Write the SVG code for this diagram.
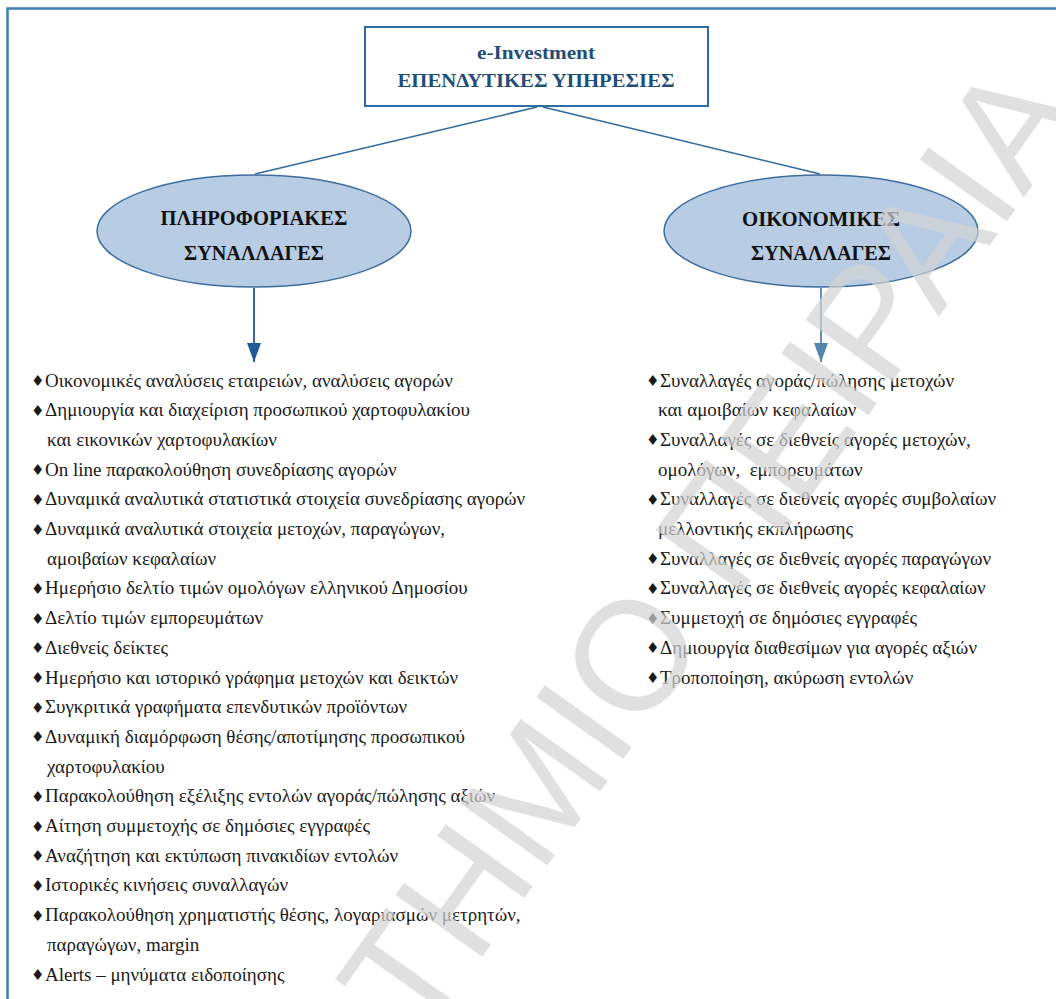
<svg xmlns="http://www.w3.org/2000/svg" width="1056" height="999" viewBox="0 0 1056 999">
<defs>
<style>
.item{font-family:"Liberation Serif","Times New Roman",serif;font-size:19px;fill:#1a1a1a}
.bul{font-family:"DejaVu Sans",sans-serif;font-size:15px;fill:#1a1a1a}
.ell{fill:#b8cce4;stroke:#3d6d9e;stroke-width:1.5}
.elltxt{font-family:"Liberation Serif","Times New Roman",serif;font-size:20px;font-weight:bold;fill:#111;text-anchor:middle}
.toptxt{font-family:"Liberation Serif","Times New Roman",serif;font-weight:bold;fill:#1f4e79;text-anchor:middle}
.conn{stroke:#2e6aa0;stroke-width:1.5;fill:none}
.wm{font-family:"Liberation Sans",Arial,sans-serif;font-size:155px;fill:#d4d4d4;opacity:0.7}
</style>
<marker id="ahL" markerWidth="20" markerHeight="14" refX="19" refY="7" orient="auto" markerUnits="userSpaceOnUse" viewBox="0 0 20 14">
<path d="M0,0 L19,7 L0,14 Z" fill="#1f5a96"/>
</marker>
<marker id="ahR" markerWidth="20" markerHeight="14" refX="19" refY="7" orient="auto" markerUnits="userSpaceOnUse" viewBox="0 0 20 14">
<path d="M0,0 L19,7 L0,14 Z" fill="#5585ad"/>
</marker>
</defs>
<rect x="0" y="0" width="1056" height="999" fill="#ffffff"/>
<path d="M7.5,1000 V8.5 H1060" fill="none" stroke="#3f7fb3" stroke-width="2.5"/>

<g id="connectors">
<line class="conn" x1="537" y1="107" x2="255" y2="174"/>
<line class="conn" x1="543" y1="107" x2="820" y2="174"/>
<line x1="254" y1="288" x2="254" y2="362" stroke="#1f5a96" stroke-width="1.8" marker-end="url(#ahL)"/>
<line x1="821" y1="288" x2="821" y2="362" stroke="#5585ad" stroke-width="1.8" marker-end="url(#ahR)"/>
</g>

<g id="node-top">
<rect x="365" y="27" width="343" height="79" fill="#ffffff" stroke="#2e6da4" stroke-width="2"/>
<text class="toptxt" x="536" y="59" font-size="19" textLength="118" lengthAdjust="spacingAndGlyphs">e-Investment</text>
<text class="toptxt" x="536" y="87" font-size="19" textLength="277" lengthAdjust="spacingAndGlyphs">ΕΠΕΝΔΥΤΙΚΕΣ ΥΠΗΡΕΣΙΕΣ</text>
</g>

<g id="node-info">
<ellipse class="ell" cx="254" cy="231" rx="157" ry="56"/>
<text class="elltxt" x="254" y="225" textLength="187" lengthAdjust="spacingAndGlyphs">ΠΛΗΡΟΦΟΡΙΑΚΕΣ</text>
<text class="elltxt" x="254" y="260" textLength="140" lengthAdjust="spacingAndGlyphs">ΣΥΝΑΛΛΑΓΕΣ</text>
</g>

<g id="node-fin">
<ellipse class="ell" cx="821" cy="231" rx="157" ry="56"/>
<text class="elltxt" x="821" y="226" textLength="158" lengthAdjust="spacingAndGlyphs">ΟΙΚΟΝΟΜΙΚΕΣ</text>
<text class="elltxt" x="821" y="260" textLength="140" lengthAdjust="spacingAndGlyphs">ΣΥΝΑΛΛΑΓΕΣ</text>
</g>

<g id="list-info">
<text class="bul" x="31" y="386">♦</text><text class="item" x="45" y="386.5">Οικονομικές αναλύσεις εταιρειών, αναλύσεις αγορών</text>
<text class="bul" x="31" y="416">♦</text><text class="item" x="45" y="416.2">Δημιουργία και διαχείριση προσωπικού χαρτοφυλακίου</text>
<text class="item" x="47" y="445.9">και εικονικών χαρτοφυλακίων</text>
<text class="bul" x="31" y="475">♦</text><text class="item" x="45" y="475.6">On line παρακολούθηση συνεδρίασης αγορών</text>
<text class="bul" x="31" y="505">♦</text><text class="item" x="45" y="505.3">Δυναμικά αναλυτικά στατιστικά στοιχεία συνεδρίασης αγορών</text>
<text class="bul" x="31" y="535">♦</text><text class="item" x="45" y="535">Δυναμικά αναλυτικά στοιχεία μετοχών, παραγώγων,</text>
<text class="item" x="47" y="564.7">αμοιβαίων κεφαλαίων</text>
<text class="bul" x="31" y="594">♦</text><text class="item" x="45" y="594.4">Ημερήσιο δελτίο τιμών ομολόγων ελληνικού Δημοσίου</text>
<text class="bul" x="31" y="624">♦</text><text class="item" x="45" y="624.1">Δελτίο τιμών εμπορευμάτων</text>
<text class="bul" x="31" y="653">♦</text><text class="item" x="45" y="653.8">Διεθνείς δείκτες</text>
<text class="bul" x="31" y="683">♦</text><text class="item" x="45" y="683.5">Ημερήσιο και ιστορικό γράφημα μετοχών και δεικτών</text>
<text class="bul" x="31" y="713">♦</text><text class="item" x="45" y="713.2">Συγκριτικά γραφήματα επενδυτικών προϊόντων</text>
<text class="bul" x="31" y="742">♦</text><text class="item" x="45" y="742.9">Δυναμική διαμόρφωση θέσης/αποτίμησης προσωπικού</text>
<text class="item" x="47" y="772.6">χαρτοφυλακίου</text>
<text class="bul" x="31" y="802">♦</text><text class="item" x="45" y="802.3">Παρακολούθηση εξέλιξης εντολών αγοράς/πώλησης αξιών</text>
<text class="bul" x="31" y="832">♦</text><text class="item" x="45" y="832">Αίτηση συμμετοχής σε δημόσιες εγγραφές</text>
<text class="bul" x="31" y="861">♦</text><text class="item" x="45" y="861.7">Αναζήτηση και εκτύπωση πινακιδίων εντολών</text>
<text class="bul" x="31" y="891">♦</text><text class="item" x="45" y="891.4">Ιστορικές κινήσεις συναλλαγών</text>
<text class="bul" x="31" y="921">♦</text><text class="item" x="45" y="921.1">Παρακολούθηση χρηματιστής θέσης, λογαριασμών μετρητών,</text>
<text class="item" x="47" y="950.8">παραγώγων, margin</text>
<text class="bul" x="31" y="980">♦</text><text class="item" x="45" y="980.5">Alerts – μηνύματα ειδοποίησης</text>
</g>

<g id="list-fin">
<text class="bul" x="646" y="386">♦</text><text class="item" x="660" y="386.5">Συναλλαγές αγοράς/πώλησης μετοχών</text>
<text class="item" x="658" y="416.2">και αμοιβαίων κεφαλαίων</text>
<text class="bul" x="646" y="445">♦</text><text class="item" x="660" y="445.9">Συναλλαγές σε διεθνείς αγορές μετοχών,</text>
<text class="item" x="658" y="475.6" xml:space="preserve">ομολόγων,  εμπορευμάτων</text>
<text class="bul" x="646" y="505">♦</text><text class="item" x="660" y="505.3">Συναλλαγές σε διεθνείς αγορές συμβολαίων</text>
<text class="item" x="658" y="535">μελλοντικής εκπλήρωσης</text>
<text class="bul" x="646" y="564">♦</text><text class="item" x="660" y="564.7">Συναλλαγές σε διεθνείς αγορές παραγώγων</text>
<text class="bul" x="646" y="594">♦</text><text class="item" x="660" y="594.4">Συναλλαγές σε διεθνείς αγορές κεφαλαίων</text>
<text class="bul" x="646" y="624">♦</text><text class="item" x="660" y="624.1">Συμμετοχή σε δημόσιες εγγραφές</text>
<text class="bul" x="646" y="653">♦</text><text class="item" x="660" y="653.8">Δημιουργία διαθεσίμων για αγορές αξιών</text>
<text class="bul" x="646" y="683">♦</text><text class="item" x="660" y="683.5">Τροποποίηση, ακύρωση εντολών</text>
</g>

<g id="watermark">
<text class="wm" transform="translate(420 1044) rotate(-54.5)" x="0" y="0">ΤΗΜΙΟ ΠΕΙΡΑΙΑ</text>
</g>
</svg>
